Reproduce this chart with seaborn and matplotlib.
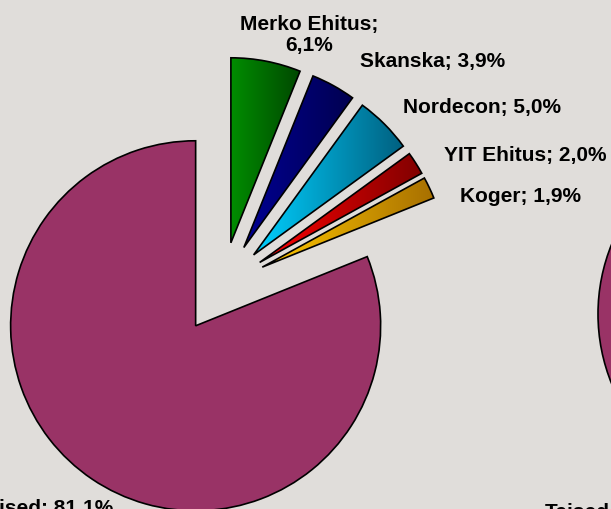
import matplotlib
matplotlib.use("Agg")
import matplotlib.pyplot as plt
import seaborn as sns
import numpy as np

# turuosad (%), alustades kella 12 suunast päripäeva
firmad = ["Merko Ehitus", "Skanska", "Nordecon", "YIT Ehitus", "Koger", "Teised"]
osakaal = [6.1, 3.9, 5.0, 2.0, 1.9, 81.1]

# teine (paremal) diagramm jääb pildist peaaegu välja, näha on ainult "Teised"
firmad_2 = ["Teised"]
osakaal_2 = [100.0]

# värvid: (hele vasak serv, tume parem serv) gradiendi jaoks
varvid = [
    ("#008C00", "#004800"),
    ("#000092", "#000050"),
    ("#00D0FF", "#006080"),
    ("#FF0000", "#800000"),
    ("#FFC800", "#A87000"),
    ("#993366", "#993366"),
]
taust = "#E0DDDA"

sns.set_theme(style="white")
plt.rcParams["font.family"] = ["Liberation Sans", "DejaVu Sans"]

fig = plt.figure(figsize=(6.11, 5.10), dpi=100, facecolor=taust)
ax = fig.add_axes([0, 0, 1, 1])
ax.set_facecolor(taust)
ax.axis("off")

raadius = 185
keskpunkt = (222.5, 223.0)

# explode on matplotlibis absoluutühikutes, mitte raadiuse osana
wedges, _ = ax.pie(osakaal, startangle=90, counterclock=False, radius=raadius,
                   center=keskpunkt, explode=[44, 44, 44, 44, 44, 48],
                   colors=[v[0] for v in varvid],
                   wedgeprops=dict(edgecolor="black", linewidth=1.2))

# horisontaalne gradient igale viilule (nagu Exceli originaalis)
for w, (hele, tume) in zip(wedges, varvid):
    if hele == tume:
        continue
    bb = w.get_path().get_extents(w.get_transform() - ax.transData)
    c1 = np.array(matplotlib.colors.to_rgb(hele))
    c2 = np.array(matplotlib.colors.to_rgb(tume))
    t = np.linspace(0, 1, 64)
    grad = (c1[None, :] * (1 - t[:, None]) + c2[None, :] * t[:, None])[None, :, :]
    im = ax.imshow(grad, extent=[bb.x0, bb.x1, bb.y0, bb.y1], aspect="auto",
                   interpolation="bilinear", zorder=w.get_zorder())
    im.set_clip_path(w)
    w.set_facecolor("none")
    w.set_zorder(w.get_zorder() + 0.5)

# teine diagramm paremal
ax.pie(osakaal_2, startangle=90, counterclock=False, radius=raadius,
       center=(783, 195), colors=["#993366"],
       wedgeprops=dict(edgecolor="black", linewidth=1.2))

ax.set_xlim(0, 611)
ax.set_ylim(0, 510)
ax.set_aspect("equal")


def silt(nimi, vaartus):
    return f"{nimi}; {vaartus:.1f}%".replace(".", ",")


fs = 15
sildid = [silt(n, v) for n, v in zip(firmad, osakaal)]
sildid[0] = sildid[0].replace("; ", ";\n")
kohad = [(309, 475), (433, 448), (482, 402), (525, 355), (520, 314)]
for s, (x, y) in zip(sildid[:5], kohad):
    ax.text(x, y, s, ha="center", va="center", fontsize=fs, fontweight="bold",
            color="black", linespacing=1.15)

ax.text(113, 11, sildid[5], ha="right", va="top", fontsize=fs,
        fontweight="bold", color="black")
ax.text(545, 7, firmad_2[0], ha="left", va="top", fontsize=fs,
        fontweight="bold", color="black")

fig.savefig("out.png", dpi=100, facecolor=taust)
